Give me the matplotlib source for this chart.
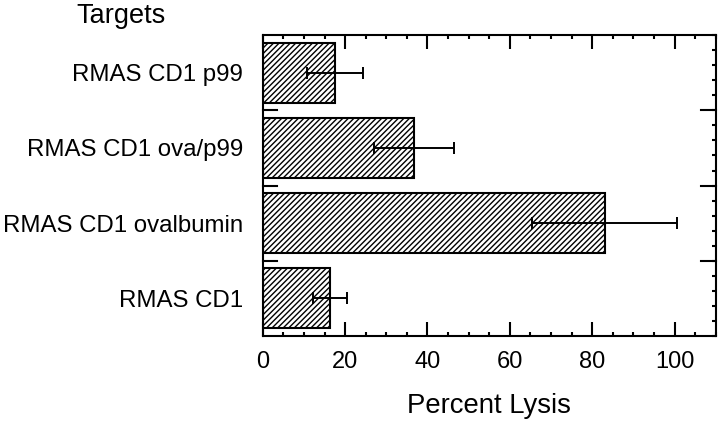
import matplotlib
matplotlib.use("Agg")
import matplotlib.pyplot as plt
from matplotlib.ticker import MultipleLocator, FixedLocator
import numpy as np

plt.rcParams['font.family'] = ['Liberation Sans', 'DejaVu Sans']
plt.rcParams['hatch.linewidth'] = 1.0

categories = ["RMAS CD1", "RMAS CD1 ovalbumin", "RMAS CD1 ova/p99", "RMAS CD1 p99"]
lysis = [16.3, 83.0, 36.7, 17.6]
errors = [4.2, 17.5, 9.8, 6.8]
xticks = [0, 20, 40, 60, 80, 100]

fig = plt.figure(figsize=(7.2, 4.23), dpi=100)
ax = fig.add_axes([0.365, 0.2057, 0.629, 0.7113])

y = np.arange(len(categories))
ax.barh(y, lysis, height=0.8, color='white', edgecolor='black',
        linewidth=1.5, hatch='//////', zorder=2)
ax.errorbar(lysis, y, xerr=errors, fmt='none', ecolor='black',
            elinewidth=1.4, capsize=4, capthick=1.4, zorder=3)

ax.set_xlim(0, 110)
ax.set_ylim(-0.5, len(categories) - 0.5)

ax.set_xticks(xticks)
ax.set_xticklabels([str(v) for v in xticks])
ax.xaxis.set_minor_locator(MultipleLocator(5))
ax.set_yticks(y)
ax.set_yticklabels(categories)
ax.yaxis.set_minor_locator(FixedLocator(np.arange(-0.5, len(categories), 0.2)))

for s in ax.spines.values():
    s.set_linewidth(1.5)

ax.tick_params(axis='x', which='major', direction='in', length=10, width=1.5,
               top=True, bottom=True, labelsize=17, pad=11)
ax.tick_params(axis='x', which='minor', direction='in', length=3, width=1.5,
               top=True, bottom=True)
ax.tick_params(axis='y', which='major', length=0, labelsize=17.3, pad=14)
ax.tick_params(axis='y', which='minor', direction='in', length=3, width=1.5,
               left=False, right=True)

# category boundary ticks on both sides
for b in np.arange(0.5, len(categories) - 0.5, 1.0):
    ax.plot([0, 3.5], [b, b], color='black', lw=1.5, clip_on=False, zorder=4)
    ax.plot([110 - 3.5, 110], [b, b], color='black', lw=1.5, clip_on=False, zorder=4)

ax.set_xlabel("Percent Lysis", fontsize=19.8)
ax.xaxis.set_label_coords(0.5, -0.19)
fig.text(0.106, 0.962, "Targets", fontsize=19.5, ha='left', va='center')

fig.savefig("out.png", dpi=100)
